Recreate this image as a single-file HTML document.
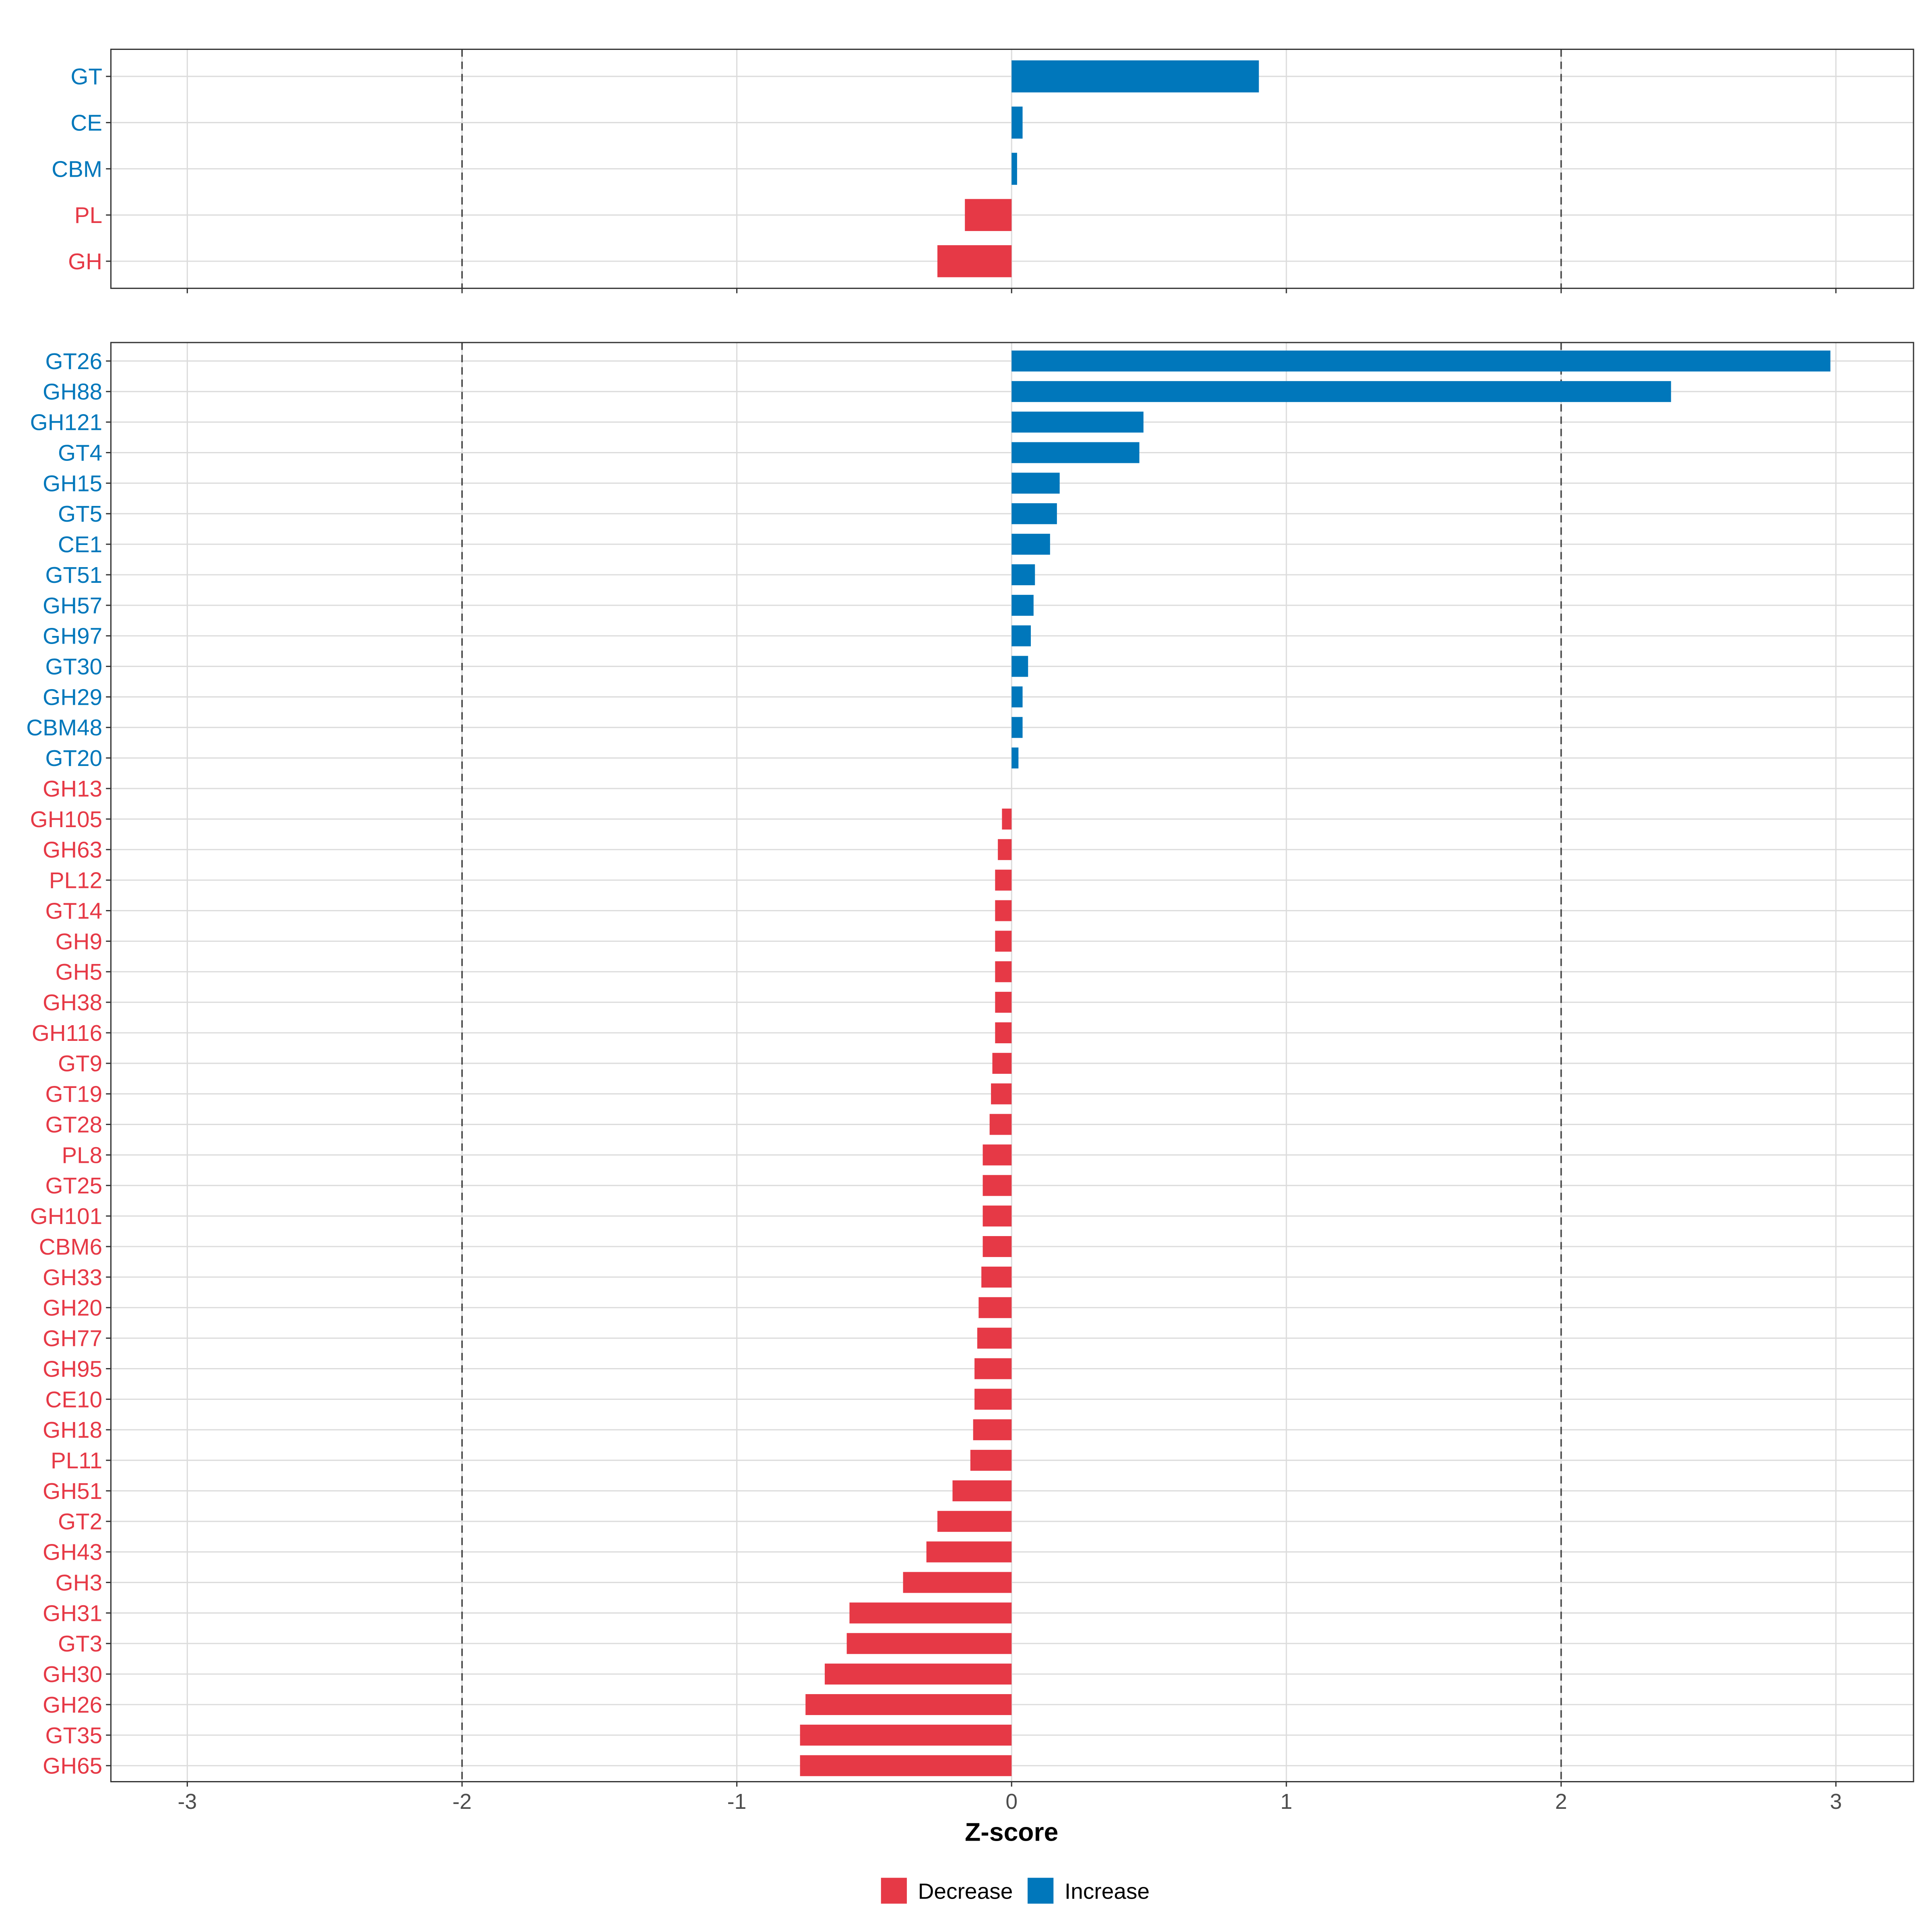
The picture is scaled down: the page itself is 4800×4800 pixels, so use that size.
<!DOCTYPE html>
<html><head><meta charset="utf-8"><style>
html,body{margin:0;padding:0;background:#fff;}
svg{display:block;font-family:"Liberation Sans",sans-serif;}
</style></head><body>
<svg id="chart" width="4800" height="4800" viewBox="0 0 1568 1568">
<g id="top"></g>
<g id="bot"></g>
<text x="821" y="1494" text-anchor="middle" font-size="21" font-weight="bold" fill="#000">Z-score</text>
<g>
<rect x="715" y="1524" width="21" height="21" fill="#E63946"/>
<text x="745" y="1541" font-size="18" fill="#000">Decrease</text>
<rect x="834" y="1524" width="21" height="21" fill="#0077BB"/>
<text x="864" y="1541" font-size="18" fill="#000">Increase</text>
</g>
</svg>
<script>
const topCats=["GT","CE","CBM","PL","GH"];
const topVals=[0.9,0.04,0.02,-0.17,-0.27];
const botCats=["GT26","GH88","GH121","GT4","GH15","GT5","CE1","GT51","GH57","GH97","GT30","GH29","CBM48","GT20","GH13","GH105","GH63","PL12","GT14","GH9","GH5","GH38","GH116","GT9","GT19","GT28","PL8","GT25","GH101","CBM6","GH33","GH20","GH77","GH95","CE10","GH18","PL11","GH51","GT2","GH43","GH3","GH31","GT3","GH30","GH26","GT35","GH65"];
const botVals=[2.98,2.40,0.48,0.465,0.175,0.165,0.14,0.085,0.08,0.07,0.06,0.04,0.04,0.025,-0.0,-0.035,-0.05,-0.06,-0.06,-0.06,-0.06,-0.06,-0.06,-0.07,-0.075,-0.08,-0.105,-0.105,-0.105,-0.105,-0.11,-0.12,-0.125,-0.135,-0.135,-0.14,-0.15,-0.215,-0.27,-0.31,-0.395,-0.59,-0.6,-0.68,-0.75,-0.77,-0.77];
const botSign=["inc","inc","inc","inc","inc","inc","inc","inc","inc","inc","inc","inc","inc","inc","dec","dec","dec","dec","dec","dec","dec","dec","dec","dec","dec","dec","dec","dec","dec","dec","dec","dec","dec","dec","dec","dec","dec","dec","dec","dec","dec","dec","dec","dec","dec","dec","dec"];
const xTicks=[-3,-2,-1,0,1,2,3];
const xTickLabels=["-3","-2","-1","0","1","2","3"];
const dashed=[-2,2];
const NS="http://www.w3.org/2000/svg";
const X0=90,X1=1553;
function x(v){return 821+v*223;}
function mk(parent,tag,attrs){const e=document.createElementNS(NS,tag);for(const k in attrs)e.setAttribute(k,attrs[k]);parent.appendChild(e);return e;}
function panel(g,cats,vals,signs,y0,y1,first,step,bh,labels,name){
  const yOf=i=>first+i*step;
  cats.forEach((c,i)=>{const l=mk(g,'line',{x1:X0,x2:X1,y1:yOf(i),y2:yOf(i),stroke:'#dcdcdc','stroke-width':1});
    });
  xTicks.forEach(t=>{const l=mk(g,'line',{x1:x(t),x2:x(t),y1:y0,y2:y1,stroke:'#dcdcdc','stroke-width':1});
    });
  dashed.forEach(t=>{const l=mk(g,'line',{x1:x(t),x2:x(t),y1:y0,y2:y1,stroke:'#444','stroke-width':1.2,'stroke-dasharray':'6,4'});
    });
  cats.forEach((c,i)=>{const v=vals[i];const inc=signs?signs[i]==='inc':v>=0;const col=inc?'#0077BB':'#E63946';
    const w=Math.abs(x(v)-x(0));
    if(w>0.01){const r=mk(g,'rect',{x:Math.min(x(0),x(v)),y:yOf(i)-bh/2,width:w,height:bh,fill:col});
    }
    const t=mk(g,'text',{x:83,y:yOf(i)+6.5,'text-anchor':'end','font-size':18.5,fill:col});t.textContent=c;
    
    const tk=mk(g,'line',{x1:86,x2:90,y1:yOf(i),y2:yOf(i),stroke:'#333'});
    });
  const b=mk(g,'rect',{x:X0,y:y0,width:X1-X0,height:y1-y0,fill:'none',stroke:'#333','stroke-width':1});
  
  xTicks.forEach((t,i)=>{const l=mk(g,'line',{x1:x(t),x2:x(t),y1:y1,y2:y1+4,stroke:'#333'});
    
    if(labels){const tx=mk(g,'text',{x:x(t),y:y1+22,'text-anchor':'middle','font-size':17.5,fill:'#4d4d4d'});tx.textContent=xTickLabels[i];
      }});
}
panel(document.getElementById('top'),topCats,topVals,null,40,234,62,37.5,26,false,'top-panel');
panel(document.getElementById('bot'),botCats,botVals,botSign,278,1446,293,(1433-293)/46,17,true,'bottom-panel');
</script>
</body></html>
